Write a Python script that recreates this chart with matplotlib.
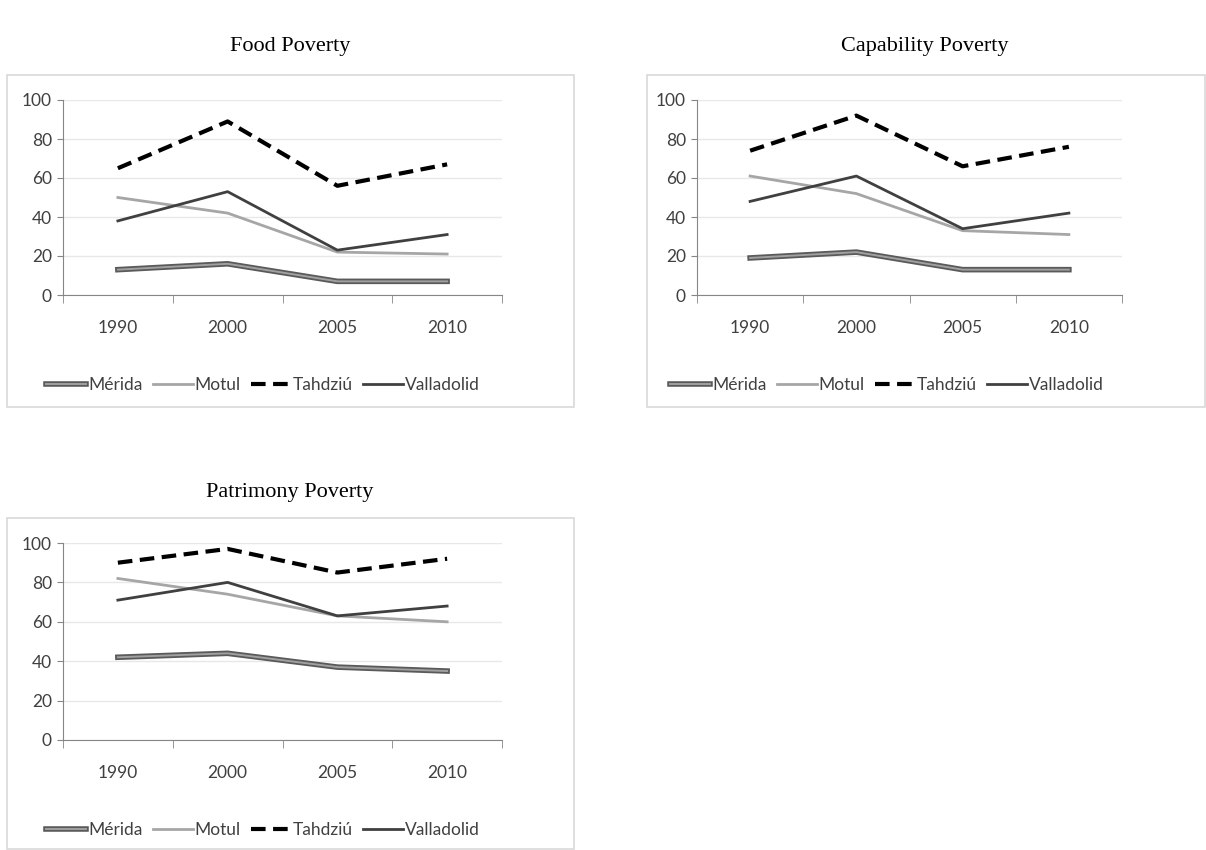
import matplotlib.pyplot as plt
import matplotlib.patheffects as pe
from matplotlib.patches import Rectangle

years = ["1990", "2000", "2005", "2010"]
cities = ["Mérida", "Motul", "Tahdziú", "Valladolid"]

food_merida = [13, 16, 7, 7]
food_motul = [50, 42, 22, 21]
food_tahdziu = [65, 89, 56, 67]
food_valladolid = [38, 53, 23, 31]

cap_merida = [19, 22, 13, 13]
cap_motul = [61, 52, 33, 31]
cap_tahdziu = [74, 92, 66, 76]
cap_valladolid = [48, 61, 34, 42]

pat_merida = [42, 44, 37, 35]
pat_motul = [82, 74, 63, 60]
pat_tahdziu = [90, 97, 85, 92]
pat_valladolid = [71, 80, 63, 68]

W, H = 1206, 850
fig = plt.figure(figsize=(W / 100, H / 100), dpi=100)

tick_font = "Lato"
axis_col = "#868686"


def fx(px):
    return px / W


def fy(py):
    return 1 - py / H


def box(x0, y0, x1, y1):
    r = Rectangle((fx(x0), fy(y1)), fx(x1 - x0), (y1 - y0) / H,
                  transform=fig.transFigure, fill=False,
                  edgecolor="#d9d9d9", linewidth=1.2)
    fig.add_artist(r)


def panel(ax_px, vals, title, title_xy, leg_x):
    x0, y0, x1, y1 = ax_px
    ax = fig.add_axes([fx(x0), fy(y1), fx(x1 - x0), (y1 - y0) / H])
    xs = range(len(years))
    merida, motul, tahdziu, valladolid = vals
    # Mérida is drawn as a double line (dark outline, lighter core)
    ax.plot(xs, merida, color="#a0a0a0", lw=1.4, label=cities[0],
            path_effects=[pe.Stroke(linewidth=4, foreground="#5a5a5a"), pe.Normal()])
    ax.plot(xs, motul, color="#a6a6a6", lw=2, label=cities[1])
    ax.plot(xs, tahdziu, color="black", lw=3, ls=(0, (3.5, 1.8)), label=cities[2])
    ax.plot(xs, valladolid, color="#404040", lw=2, label=cities[3])

    ax.set_xlim(-0.5, len(years) - 0.5)
    ax.set_ylim(0, 100)
    ax.set_yticks(range(0, 101, 20))
    ax.set_xticks(list(xs))
    ax.set_xticklabels(years)
    ax.set_xticks([i - 0.5 for i in range(len(years) + 1)], minor=True)
    ax.tick_params(axis="x", which="major", length=0, pad=18)
    ax.tick_params(axis="x", which="minor", length=6, color=axis_col, direction="out")
    ax.tick_params(axis="y", length=4, color=axis_col, pad=4)
    for lab in ax.get_xticklabels() + ax.get_yticklabels():
        lab.set_fontfamily(tick_font)
        lab.set_fontsize(12.5)
        lab.set_color("#404040")
    for s in ["top", "right"]:
        ax.spines[s].set_visible(False)
    for s in ["left", "bottom"]:
        ax.spines[s].set_color(axis_col)
    ax.grid(axis="y", color="#e8e8e8", lw=1)
    ax.set_axisbelow(True)
    ax.patch.set_alpha(0)

    leg_y = -(90 / (y1 - y0))
    ax.legend(loc="center", bbox_to_anchor=((leg_x - x0) / (x1 - x0), leg_y),
              ncol=4, frameon=False, handlelength=2.3, handletextpad=0.1,
              columnspacing=0.6, prop={"family": tick_font, "size": 12.5},
              labelcolor="#404040")

    fig.text(fx(title_xy[0]), fy(title_xy[1]), title, ha="center", va="center",
             family="Liberation Serif", fontsize=16)


box(7, 75, 574, 407)
box(647, 75, 1205, 407)
box(7, 518, 574, 849)

panel((63, 100, 502, 295), [food_merida, food_motul, food_tahdziu, food_valladolid],
      "Food Poverty", (290, 47), 263)
panel((697, 100, 1122, 295), [cap_merida, cap_motul, cap_tahdziu, cap_valladolid],
      "Capability Poverty", (925, 47), 887)
panel((63, 543, 502, 740), [pat_merida, pat_motul, pat_tahdziu, pat_valladolid],
      "Patrimony Poverty", (290, 492), 263)

fig.savefig("out.png", dpi=100)
